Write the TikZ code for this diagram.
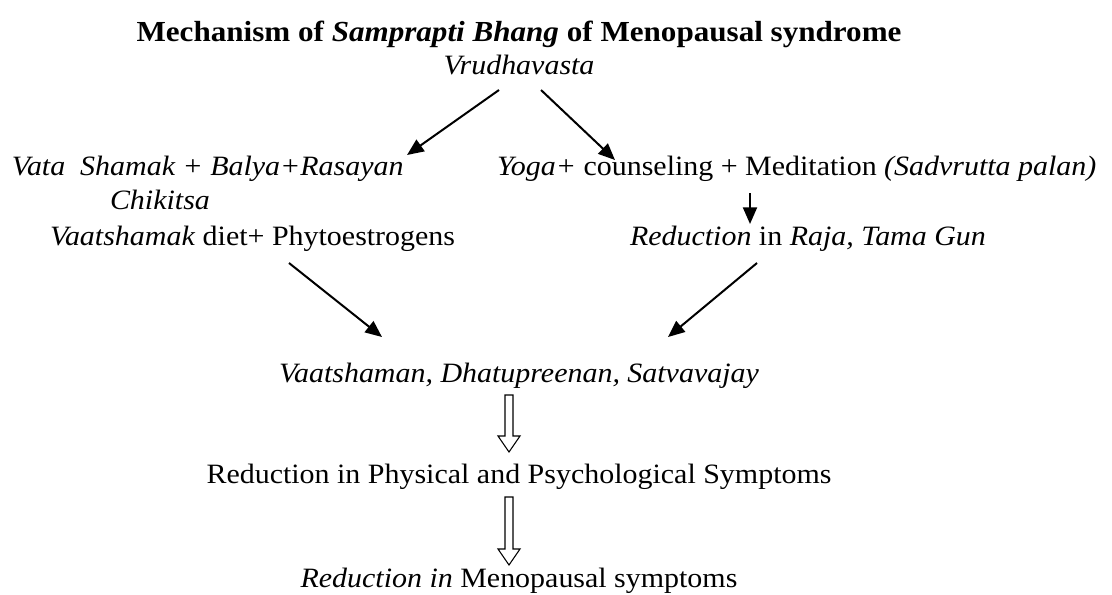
\documentclass[tikz,border=0pt]{standalone}
\usepackage{fontspec}
\setmainfont{Liberation Serif}[FakeStretch=1.07]
\usetikzlibrary{arrows.meta,calc}
\tikzset{
  txt/.style={inner sep=0pt, outer sep=0pt, font=\fontsize{21}{25}\selectfont},
  ttl/.style={inner sep=0pt, outer sep=0pt, font=\fontsize{21.8}{26}\selectfont\bfseries},
  arr/.style={line width=1.5pt, -{Triangle[length=12.5pt,width=10.5pt]}},
  harr/.style={line width=0.8pt, draw=black, fill=white, line join=miter},
}
\begin{document}
\begin{tikzpicture}[x=0.75pt,y=-0.75pt]
\useasboundingbox (0,0) rectangle (1112,594);
% texts
\node[ttl, anchor=base] (title) at (519,41) {Mechanism of \textit{Samprapti Bhang} of Menopausal syndrome};
\node[txt, anchor=base] (vr) at (519,74) {\textit{Vrudhavasta}};
\node[txt, anchor=base west] (vata) at (12,175) {\textit{Vata\ \ Shamak + Balya+Rasayan}};
\node[txt, anchor=base west] (chik) at (110,209) {\textit{Chikitsa}};
\node[txt, anchor=base west] (diet) at (50,245) {\textit{Vaatshamak} diet+ Phytoestrogens};
\node[txt, anchor=base west] (yoga) at (497,175) {\textit{Yoga+} counseling + Meditation \textit{(Sadvrutta palan)}};
\node[txt, anchor=base west] (raja) at (630,245) {\textit{Reduction} in \textit{Raja, Tama Gun}};
\node[txt, anchor=base] (vaat) at (519,382) {\textit{Vaatshaman, Dhatupreenan, Satvavajay}};
\node[txt, anchor=base] (phys) at (519,483) {Reduction in Physical and Psychological Symptoms};
\node[txt, anchor=base] (meno) at (519,587) {\textit{Reduction in} Menopausal symptoms};
% connector end points
\coordinate (a1s) at (499,90);  \coordinate (a1e) at (407,155);
\coordinate (a2s) at (541,90);  \coordinate (a2e) at (615,160);
\coordinate (a3s) at (750,193); \coordinate (a3e) at (750,224);
\coordinate (a4s) at (289,263); \coordinate (a4e) at (382,337);
\coordinate (a5s) at (757,263); \coordinate (a5e) at (668,337);
\draw[arr] (a1s) -- (a1e);
\draw[arr] (a2s) -- (a2e);
\draw[arr] (a3s) -- (a3e);
\draw[arr] (a4s) -- (a4e);
\draw[arr] (a5s) -- (a5e);
% hollow block arrows
\coordinate (h1s) at (509,395); \coordinate (h1e) at (509,452);
\coordinate (h2s) at (509,497); \coordinate (h2e) at (509,565);
\foreach \s/\e in {h1s/h1e, h2s/h2e}{
  \draw[harr] ($(\s)+(-4,0)$) -- ($(\e)+(-4,-16)$) -- ($(\e)+(-11,-16)$) -- (\e)
     -- ($(\e)+(11,-16)$) -- ($(\e)+(4,-16)$) -- ($(\s)+(4,0)$) -- cycle;
}
\end{tikzpicture}
\end{document}
